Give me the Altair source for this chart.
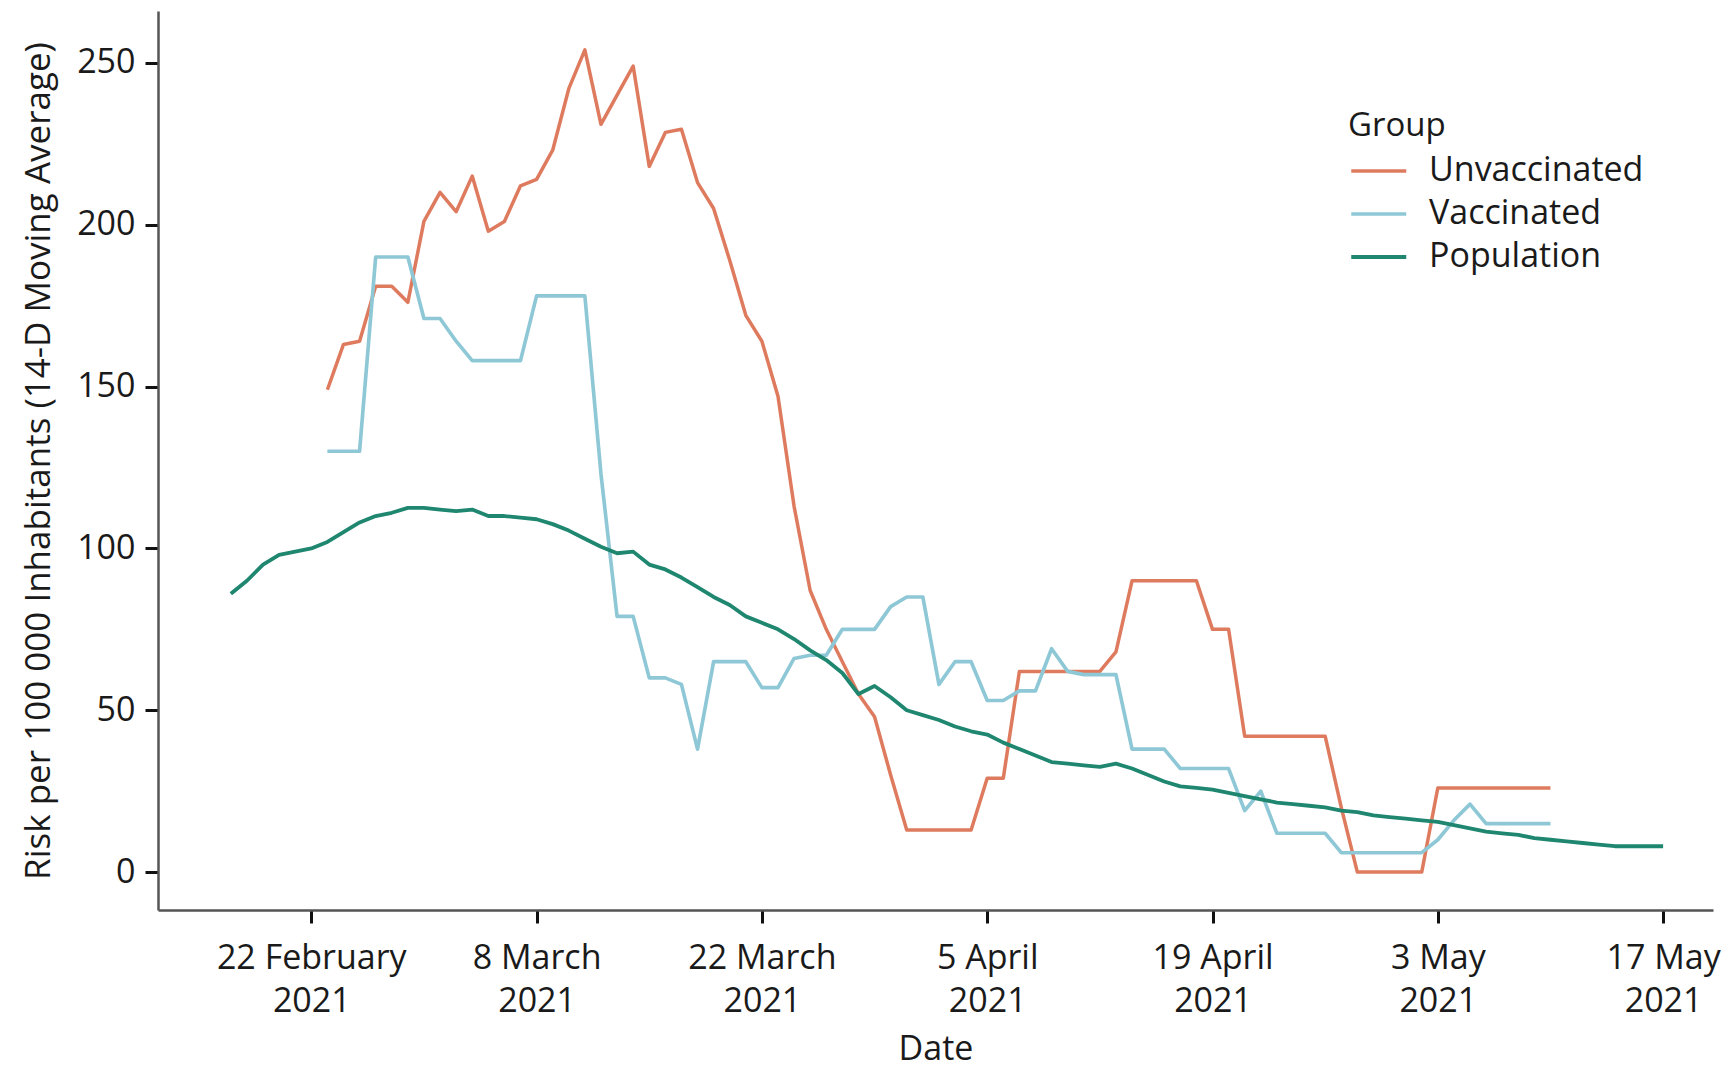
import altair as alt
import pandas as pd

# ---- data (daily values) ----
groups = ["Unvaccinated", "Vaccinated", "Population"]
colors = ["#DE7B5E", "#8EC8D6", "#1F8670"]

population_start = "2021-02-17"
population = [
    86, 90, 95, 98, 99, 100, 102, 105, 108, 110,
    111, 112.5, 112.5, 112, 111.5, 112, 110, 110, 109.5, 109,
    107.5, 105.5, 103, 100.5, 98.5, 99, 95, 93.5, 91, 88,
    85, 82.5, 79, 77, 75, 72, 68.5, 65.5, 61.5, 55,
    57.5, 54, 50, 48.5, 47, 45, 43.5, 42.5, 40, 38,
    36, 34, 33.5, 33, 32.5, 33.5, 32, 30, 28, 26.5,
    26, 25.5, 24.5, 23.5, 22.5, 21.5, 21, 20.5, 20, 19,
    18.5, 17.5, 17, 16.5, 16, 15.5, 14.5, 13.5, 12.5, 12,
    11.5, 10.5, 10, 9.5, 9, 8.5, 8, 8, 8, 8,
]

groups_start = "2021-02-23"
unvaccinated = [
    149, 163, 164, 181, 181, 176, 201, 210, 204, 215,
    198, 201, 212, 214, 223, 242, 254, 231, 240, 249,
    218, 228.5, 229.5, 213, 205, 189, 172, 164, 147, 113,
    87, 75, 65, 55, 48, 30, 13, 13, 13, 13,
    13, 29, 29, 62, 62, 62, 62, 62, 62, 68,
    90, 90, 90, 90, 90, 75, 75, 42, 42, 42,
    42, 42, 42, 20, 0, 0, 0, 0, 0, 26,
    26, 26, 26, 26, 26, 26, 26,
]
vaccinated = [
    130, 130, 130, 190, 190, 190, 171, 171, 164, 158,
    158, 158, 158, 178, 178, 178, 178, 123, 79, 79,
    60, 60, 58, 38, 65, 65, 65, 57, 57, 66,
    67, 67, 75, 75, 75, 82, 85, 85, 58, 65,
    65, 53, 53, 56, 56, 69, 62, 61, 61, 61,
    38, 38, 38, 32, 32, 32, 32, 19, 25, 12,
    12, 12, 12, 6, 6, 6, 6, 6, 6, 10,
    16, 21, 15, 15, 15, 15, 15,
]

tick_dates = ["2021-02-22", "2021-03-08", "2021-03-22", "2021-04-05",
              "2021-04-19", "2021-05-03", "2021-05-17"]
y_ticks = [0, 50, 100, 150, 200, 250]

# ---- build table ----
rows = []
for name, start, vals in [("Unvaccinated", groups_start, unvaccinated),
                          ("Vaccinated", groups_start, vaccinated),
                          ("Population", population_start, population)]:
    for d, v in zip(pd.date_range(start, periods=len(vals), freq="D"), vals):
        rows.append({"date": d.strftime("%Y-%m-%d"), "risk": v, "group": name})
df = pd.DataFrame(rows)

DAY = 86400000
def ms(s):
    return int(pd.Timestamp(s, tz="UTC").timestamp() * 1000)

base = ms("2021-02-22")
x_domain = [base - 9.525 * DAY, base + 87.1 * DAY]
x_ticks = [ms(t) for t in tick_dates]

FONT = "Open Sans"
TXT = "#1a1a1a"

chart = alt.Chart(df).mark_line(strokeJoin="round").encode(
    x=alt.X(
        "date:T",
        scale=alt.Scale(type="utc", domain=x_domain),
        axis=alt.Axis(
            values=x_ticks,
            title="Date",
            labelExpr="[utcFormat(datum.value, '%-d %B'), utcFormat(datum.value, '%Y')]",
            labelLineHeight=43,
            labelPadding=18,
            labelLimit=0,
            titlePadding=14,
        ),
    ),
    y=alt.Y(
        "risk:Q",
        scale=alt.Scale(domain=[-11.7, 266], nice=False, zero=False),
        axis=alt.Axis(
            values=y_ticks,
            title="Risk per 100 000 Inhabitants (14-D Moving Average)",
            labelPadding=10,
            titlePadding=20,
            titleFontSize=35,
        ),
    ),
    color=alt.Color(
        "group:N",
        scale=alt.Scale(domain=groups, range=colors),
        legend=alt.Legend(
            title="Group",
            orient="none",
            legendX=1190,
            legendY=99,
            symbolType="M-1,0L3,0",
            symbolSize=756,
            symbolStrokeWidth=5,
            labelOffset=47,
            labelLimit=0,
            rowPadding=9,
            titlePadding=11,
            padding=0,
        ),
    ),
    strokeWidth=alt.StrokeWidth(
        "group:N",
        scale=alt.Scale(domain=groups, range=[3.5, 3.8, 5]),
        legend=None,
    ),
).properties(
    width=1555,
    height=899,
    autosize=alt.AutoSizeParams(type="none"),
    padding={"left": 150, "top": 3, "right": 8, "bottom": 160},
    background="white",
).configure_view(
    stroke=None
).configure_axis(
    grid=False,
    domainColor="#555555",
    domainWidth=2.5,
    tickColor="#111111",
    tickWidth=3,
    tickSize=13,
    labelFont=FONT,
    labelFontSize=34,
    labelColor=TXT,
    titleFont=FONT,
    titleFontSize=34,
    titleFontWeight="normal",
    titleColor=TXT,
).configure_legend(
    titleFont=FONT,
    titleFontSize=33,
    titleFontWeight="normal",
    titleColor=TXT,
    labelFont=FONT,
    labelFontSize=34,
    labelColor=TXT,
)

chart.save("out.html", embed_options={"renderer": "svg", "actions": False})
